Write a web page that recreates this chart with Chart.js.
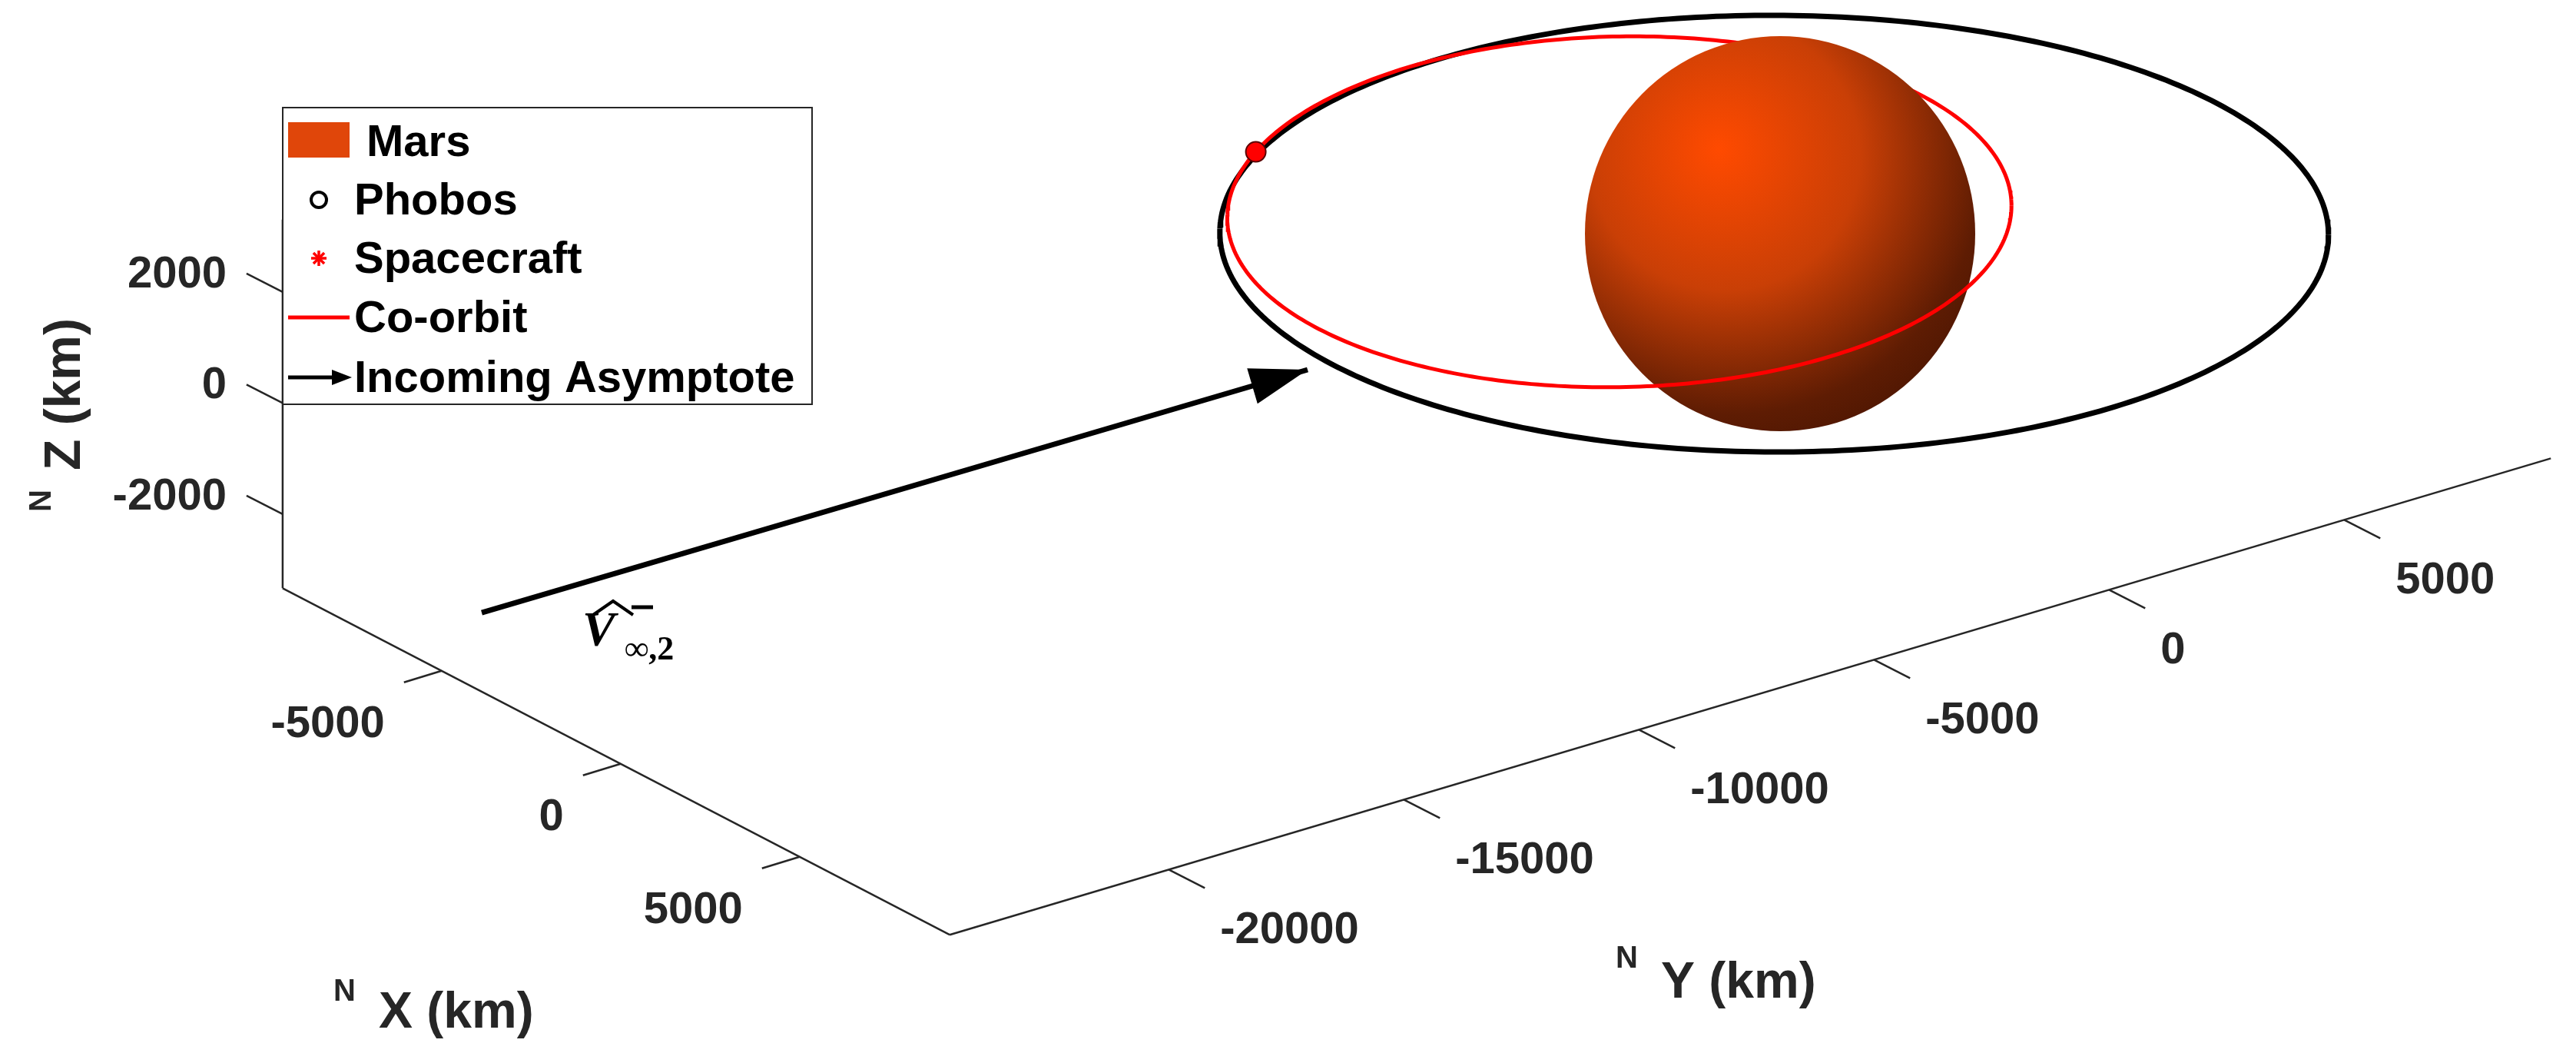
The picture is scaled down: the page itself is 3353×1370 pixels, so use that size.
<!DOCTYPE html>
<html><head><meta charset="utf-8">
<script src="https://cdn.jsdelivr.net/npm/chart.js@4/dist/chart.umd.min.js"></script>
<style>html,body{margin:0;padding:0;background:#fff}#wrap{width:3353px;height:1370px}</style>
</head><body><div id="wrap"><canvas id="c" width="3353" height="1370"></canvas></div>
<script>
// ---- data (km) ----
const xTicks = [-5000, 0, 5000];
const yTicks = [-20000, -15000, -10000, -5000, 0, 5000];
const zTicks = [-2000, 0, 2000];
const xRange = [-9440, 9190];
const yRange = [-24660, 9395];
const zRange = [-3333, 3300];
const marsCenter = [0, 0, 0];
const phobosOrbitCenter = [-60, -80, 0];
const phobosOrbitRadius = 9376;
const coOrbitCenter = [-2382, -1604, 0];
const coOrbitRadius = 6632;
const coOrbitInclDeg = 3.3;
const spacecraft = [-8130, -4960, 0];
const asymptoteStart = [-7373, -22000, -3749];
const asymptoteEnd = [-2691, -8000, -1335];
const legendLabels = ['Mars', 'Phobos', 'Spacecraft', 'Co-orbit', 'Incoming Asymptote'];

// ---- view (projection of km onto the chart's value plane) ----
const O = [2317, 304], ex = [0.0466, 0.0242], ey = [0.0612, -0.0182], ez = [0, -0.0723];
function proj(p){ return {x: O[0]+p[0]*ex[0]+p[1]*ey[0]+p[2]*ez[0], y: O[1]+p[0]*ex[1]+p[1]*ey[1]+p[2]*ez[1]}; }
const hDir = [0.606, 0.796], vDir = [0.796, -0.606];
function orbit(center, R, inclDeg, tiltZ){
  const i = inclDeg*Math.PI/180, front = [], back = [];
  for (let k = 0; k <= 360; k++){
    const t = k*Math.PI/180, c = Math.cos(t), s = Math.sin(t);
    const p = [center[0] + R*c*hDir[0] + R*Math.cos(i)*s*vDir[0],
               center[1] + R*c*hDir[1] + R*Math.cos(i)*s*vDir[1],
               center[2] + tiltZ*c - R*Math.sin(i)*s];
    const q = proj(p);
    if (s >= 0) front.push(q); else back.push(q);
    if (s >= 0 && k>0 && Math.sin((k-1)*Math.PI/180) < 0) back.push(q);
    if (s < 0 && k>0 && Math.sin((k-1)*Math.PI/180) >= 0) front.push(q);
  }
  return {front, back};
}
const phob = orbit(phobosOrbitCenter, phobosOrbitRadius, 0, 0);
const co = orbit(coOrbitCenter, coOrbitRadius, coOrbitInclDeg, 124);

// Mars sprite
const marsImg = document.createElement('canvas');
marsImg.width = 520; marsImg.height = 520;
(function(){
  const g = marsImg.getContext('2d');
  const gr = g.createRadialGradient(180, 150, 0, 200, 170, 440);
  gr.addColorStop(0, '#FF4A00'); gr.addColorStop(0.4, '#C93F06');
  gr.addColorStop(0.75, '#5E1C03'); gr.addColorStop(1, '#3E1101');
  g.fillStyle = gr; g.beginPath(); g.ellipse(260, 260, 254, 257, 0, 0, 2*Math.PI); g.fill();
})();

const FONT = '"Liberation Sans", Arial, sans-serif';
const ink = '#262626';

const axesPlugin = {
  id: 'axes3d',
  beforeDatasetsDraw(chart){
    const ctx = chart.ctx, sx = chart.scales.x, sy = chart.scales.y;
    const P = p => { const q = proj(p); return [sx.getPixelForValue(q.x), sy.getPixelForValue(q.y)]; };
    ctx.save(); ctx.strokeStyle = ink; ctx.lineWidth = 2.5; ctx.fillStyle = ink;
    const line = (a,b) => { ctx.beginPath(); ctx.moveTo(a[0],a[1]); ctx.lineTo(b[0],b[1]); ctx.stroke(); };
    line(P([xRange[0], yRange[0], zRange[0]]), P([xRange[0], yRange[0], zRange[1]]));
    line(P([xRange[0], yRange[0], zRange[0]]), P([xRange[1], yRange[0], zRange[0]]));
    line(P([xRange[1], yRange[0], zRange[0]]), P([xRange[1], yRange[1], zRange[0]]));
    ctx.font = 'bold 58px ' + FONT; ctx.textBaseline = 'middle';
    zTicks.forEach(v => { const a = P([xRange[0], yRange[0], v]); line(a, [a[0]-47, a[1]-24]);
      ctx.textAlign = 'right'; ctx.fillText(String(v), a[0]-73, a[1]-22); });
    xTicks.forEach(v => { const a = P([v, yRange[0], zRange[0]]); line(a, [a[0]-49, a[1]+15]);
      ctx.textAlign = 'right'; ctx.fillText(String(v), a[0]-74, a[1]+70); });
    yTicks.forEach(v => { const a = P([xRange[1], v, zRange[0]]); line(a, [a[0]+47, a[1]+24]);
      ctx.textAlign = 'left'; ctx.fillText(String(v), a[0]+67, a[1]+80); });
    // axis labels
    ctx.textBaseline = 'alphabetic'; ctx.textAlign = 'left';
    ctx.font = 'bold 40px ' + FONT; ctx.fillText('N', 434, 1302);
    ctx.font = 'bold 66px ' + FONT; ctx.fillText('X (km)', 493, 1337);
    ctx.font = 'bold 40px ' + FONT; ctx.fillText('N', 2103, 1259);
    ctx.font = 'bold 66px ' + FONT; ctx.fillText('Y (km)', 2162, 1298);
    ctx.save(); ctx.translate(104, 666); ctx.rotate(-Math.PI/2);
    ctx.font = 'bold 40px ' + FONT; ctx.fillText('N', 0, -38);
    ctx.font = 'bold 66px ' + FONT; ctx.fillText('Z (km)', 54, 0);
    ctx.restore();
    ctx.restore();
  },
  afterDatasetsDraw(chart){
    const ctx = chart.ctx, sx = chart.scales.x, sy = chart.scales.y;
    const P = p => { const q = proj(p); return [sx.getPixelForValue(q.x), sy.getPixelForValue(q.y)]; };
    ctx.save();
    const a = P(asymptoteStart), b = P(asymptoteEnd);
    const ang = Math.atan2(b[1]-a[1], b[0]-a[0]);
    ctx.fillStyle = '#000'; ctx.translate(b[0], b[1]); ctx.rotate(ang);
    ctx.beginPath(); ctx.moveTo(0,0); ctx.lineTo(-75,-24); ctx.lineTo(-75,24); ctx.closePath(); ctx.fill();
    ctx.restore();
    // V label
    ctx.save(); ctx.fillStyle = '#000'; ctx.strokeStyle = '#000';
    ctx.font = 'italic bold 64px "Liberation Serif", "DejaVu Serif", serif'; ctx.textBaseline = 'alphabetic';
    ctx.fillText('V', 758, 840);
    ctx.lineWidth = 4; ctx.beginPath(); ctx.moveTo(772, 800); ctx.lineTo(798, 782); ctx.lineTo(824, 800); ctx.stroke();
    ctx.lineWidth = 5; ctx.beginPath(); ctx.moveTo(822, 790); ctx.lineTo(850, 790); ctx.stroke();
    ctx.font = 'bold 44px "Liberation Serif", "DejaVu Serif", serif'; ctx.fillText('\u221E,2', 813, 858);
    ctx.restore();
    // legend
    ctx.save();
    ctx.fillStyle = '#fff'; ctx.fillRect(368, 140, 689, 386);
    ctx.strokeStyle = ink; ctx.lineWidth = 2; ctx.strokeRect(368, 140, 689, 386);
    const rows = [184, 260, 336, 413, 491];
    ctx.font = 'bold 58px ' + FONT; ctx.fillStyle = '#000'; ctx.textBaseline = 'middle'; ctx.textAlign = 'left';
    legendLabels.forEach((t,i) => ctx.fillText(t, i===0 ? 477 : 461, rows[i]+3));
    ctx.fillStyle = '#E0460A'; ctx.fillRect(375, 159, 80, 46);
    ctx.strokeStyle = '#000'; ctx.lineWidth = 4; ctx.beginPath(); ctx.arc(415, rows[1], 10, 0, 2*Math.PI); ctx.stroke();
    ctx.strokeStyle = '#FF0000'; ctx.lineWidth = 3.5;
    for (let k=0;k<4;k++){ const t=k*Math.PI/4; ctx.beginPath();
      ctx.moveTo(415-10*Math.cos(t), rows[2]-10*Math.sin(t)); ctx.lineTo(415+10*Math.cos(t), rows[2]+10*Math.sin(t)); ctx.stroke(); }
    ctx.lineWidth = 5; ctx.beginPath(); ctx.moveTo(375, rows[3]); ctx.lineTo(455, rows[3]); ctx.stroke();
    ctx.strokeStyle = '#000'; ctx.fillStyle = '#000'; ctx.beginPath(); ctx.moveTo(375, rows[4]); ctx.lineTo(440, rows[4]); ctx.stroke();
    ctx.beginPath(); ctx.moveTo(458, rows[4]); ctx.lineTo(432, rows[4]-10); ctx.lineTo(432, rows[4]+10); ctx.closePath(); ctx.fill();
    ctx.restore();
  }
};

const lineDs = (data, color, w, order) => ({type:'line', data, borderColor: color, borderWidth: w, pointRadius: 0, fill: false, tension: 0, order, clip: false});
new Chart(document.getElementById('c'), {
  type: 'scatter',
  data: { datasets: [
    lineDs(phob.back, '#000000', 7, 5),
    lineDs(co.back, '#FF0000', 5, 4),
    {type:'scatter', data:[proj(marsCenter)], pointStyle: marsImg, pointRadius: 255, order: 3, clip: false},
    lineDs(phob.front, '#000000', 7, 2),
    lineDs(co.front, '#FF0000', 5, 1),
    lineDs([proj(asymptoteStart), proj(asymptoteEnd)], '#000000', 7, 1),
    {type:'scatter', data:[proj(spacecraft)], pointRadius: 13, backgroundColor: '#FF0000', borderColor: '#5a0000', borderWidth: 2, order: 0, clip: false}
  ]},
  options: {
    responsive: false, animation: false, devicePixelRatio: 1,
    layout: {padding: 0, autoPadding: false},
    plugins: {legend: {display: false}, tooltip: {enabled: false}},
    scales: {
      x: {type:'linear', min: 0, max: 3353, display: false},
      y: {type:'linear', min: 0, max: 1370, reverse: true, display: false}
    }
  },
  plugins: [axesPlugin]
});
</script></body></html>
